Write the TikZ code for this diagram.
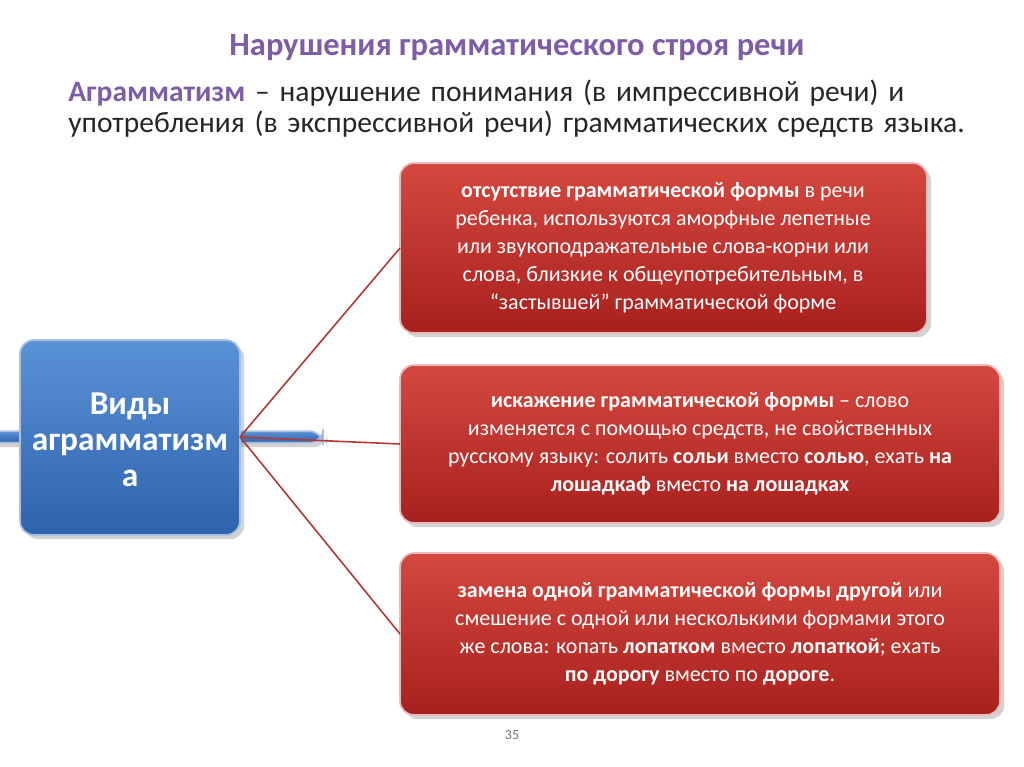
\documentclass[tikz,border=0pt]{standalone}
\usepackage{fontspec}
\setmainfont{Carlito}
\usetikzlibrary{shadows}
\definecolor{ttl}{HTML}{7E5CA6}
\definecolor{redt}{HTML}{D4483F}
\definecolor{redb}{HTML}{A8201E}
\definecolor{redl}{HTML}{B03A33}
\definecolor{bluet}{HTML}{5A92D6}
\definecolor{blueb}{HTML}{2E62AE}
\tikzset{
 redbox/.style={draw=white!70!redb, line width=1pt, rounded corners=8pt, top color=redt, bottom color=redb, text=white, align=center, font=\fontsize{12.5}{15.9}\selectfont, drop shadow={opacity=0.35}},
 bluebox/.style={draw=white!60!blueb, line width=1pt, rounded corners=8pt, top color=bluet, bottom color=blueb, text=white, align=center, font=\fontsize{19}{20.5}\selectfont\bfseries, drop shadow={opacity=0.35}},
 link/.style={draw=redl, line width=0.9pt}
}
\begin{document}
\begin{tikzpicture}[x=0.02cm,y=-0.02cm]
\useasboundingbox (0,0) rectangle (1024,767);
\fill[white] (0,0) rectangle (1024,767);
\node[text=ttl, font=\fontsize{18.5}{20}\selectfont\bfseries] (title) at (517,48) {Нарушения грамматического строя речи};
\node[anchor=north west, align=left, text width=535pt, inner sep=0pt, font=\fontsize{16.8}{17.6}\selectfont, text=black!85] (def) at (68,80)
 {{\color{ttl}\bfseries Аграмматизм} – нарушение понимания (в импрессивной речи) и употребления (в экспрессивной речи) грамматических средств языка.};
\node[bluebox, minimum width=220\pgflinewidth, text width=115pt] (L) at (130,437) {};
\path[bluebox] (20,340) rectangle (240,535);
\node[text=white, align=center, font=\fontsize{19}{20.5}\selectfont\bfseries] (Lt) at (130,440) {Виды\\аграмматизм\\а};
\path[redbox] (400,163) rectangle (927,333);
\path[redbox] (400,365) rectangle (1000,523);
\path[redbox] (400,553) rectangle (1000,715);
\coordinate (Lr) at (240,437);
\coordinate (r1) at (400,248);
\coordinate (r2) at (400,444);
\coordinate (r3) at (400,634);
\draw[link] (Lr) -- (r1);
\draw[link] (Lr) -- (r2);
\draw[link] (Lr) -- (r3);
\node[text=white, align=center, font=\fontsize{12.5}{15.9}\selectfont] (t1) at (663,248) {\textbf{отсутствие грамматической формы} в речи\\ребенка, используются аморфные лепетные\\или звукоподражательные слова-корни или\\слова, близкие к общеупотребительным, в\\“застывшей” грамматической форме};
\node[text=white, align=center, font=\fontsize{12.5}{15.9}\selectfont] (t2) at (700,444) {\textbf{искажение грамматической формы} – слово\\изменяется с помощью средств, не свойственных\\русскому языку: солить \textbf{сольи} вместо \textbf{солью}, ехать \textbf{на}\\\textbf{лошадкаф} вместо \textbf{на лошадках}};
\node[text=white, align=center, font=\fontsize{12.5}{15.9}\selectfont] (t3) at (700,634) {\textbf{замена одной грамматической формы другой} или\\смешение с одной или несколькими формами этого\\же слова: копать \textbf{лопатком} вместо \textbf{лопаткой}; ехать\\\textbf{по дорогу} вместо по \textbf{дороге}.};
\node[text=black!55, font=\fontsize{8}{9}\selectfont] (pg) at (512,735) {35};
\end{tikzpicture}
\end{document}
